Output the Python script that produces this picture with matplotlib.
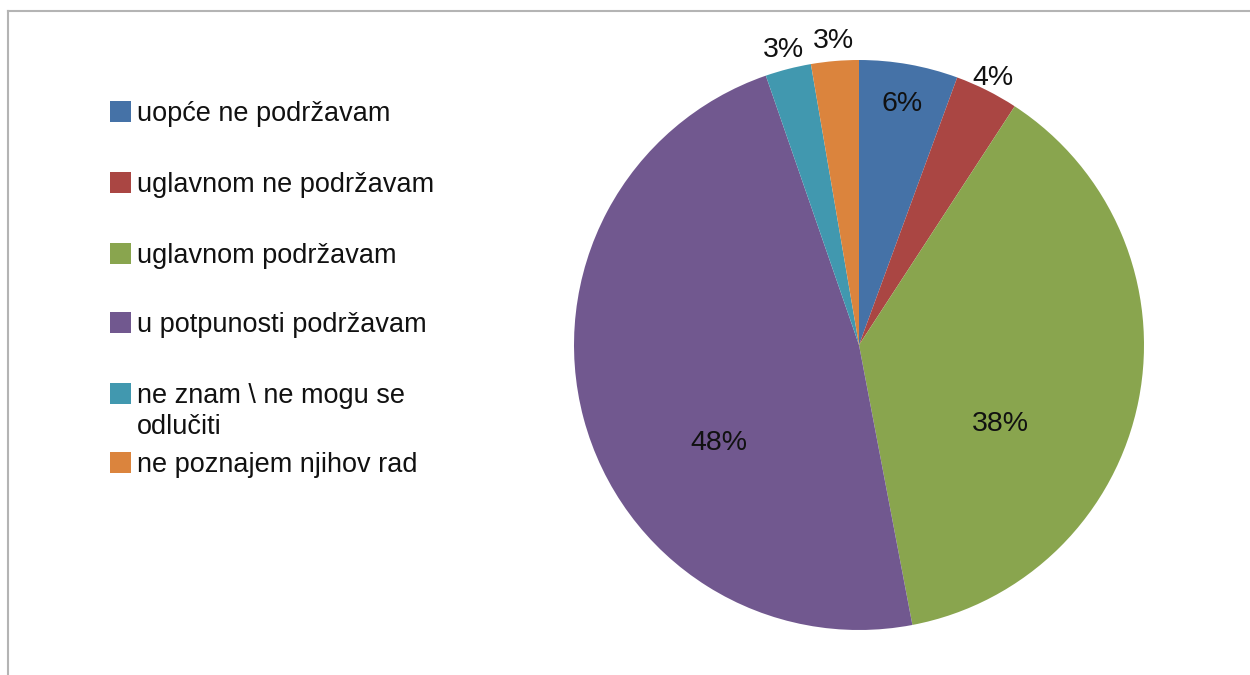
import numpy as np
import matplotlib
matplotlib.use("Agg")
import matplotlib.pyplot as plt
from matplotlib.lines import Line2D
from matplotlib.patches import Rectangle

plt.rcParams['font.family'] = ['Liberation Sans', 'DejaVu Sans']

categories = ["uopće ne podržavam",
              "uglavnom ne podržavam",
              "uglavnom podržavam",
              "u potpunosti podržavam",
              "ne znam \\ ne mogu se\nodlučiti",
              "ne poznajem njihov rad"]
shares = [5.6, 3.6, 37.8, 47.7, 2.6, 2.7]
colors = ["#4572A7", "#AA4643", "#89A54E", "#71588F", "#4198AF", "#DB843D"]

# label placement: distance from centre (pie radii) and angle shift (deg)
label_dist = [0.86, 1.05, 0.57, 0.60, 1.07, 1.07]
label_shift = [0, 0, -18, 20, 0, 0]
# legend rows (figure pixels from the top)
legend_y = [111, 182, 253, 322, 393, 462]

W, H = 1250, 675
fig = plt.figure(figsize=(12.5, 6.75), dpi=100)

# chart frame (only top and left edges are visible)
fig.add_artist(Line2D([8 / W, 1], [1 - 11 / H, 1 - 11 / H],
                      transform=fig.transFigure, color="#b4b4b4", lw=1.5))
fig.add_artist(Line2D([8 / W, 8 / W], [0, 1 - 11 / H],
                      transform=fig.transFigure, color="#b4b4b4", lw=1.5))

ax = fig.add_axes([574 / W, 45 / H, 570 / W, 570 / H])
wedges, _ = ax.pie(shares, colors=colors, startangle=90, counterclock=False,
                   radius=1, wedgeprops=dict(linewidth=0))
ax.set_xlim(-1, 1)
ax.set_ylim(-1, 1)
ax.set_aspect("equal")
ax.axis("off")

for w, v, d, s in zip(wedges, shares, label_dist, label_shift):
    mid = np.deg2rad((w.theta1 + w.theta2) / 2 + s)
    ax.text(d * np.cos(mid), d * np.sin(mid), f"{round(v)}%",
            ha="center", va="center", fontsize=20.5, color="#111111",
            clip_on=False)

# legend
for name, c, y in zip(categories, colors, legend_y):
    fig.add_artist(Rectangle((110 / W, 1 - (y + 10.5) / H), 21 / W, 21 / H,
                             transform=fig.transFigure, color=c, lw=0))
    for i, line in enumerate(name.split("\n")):
        fig.text(137 / W, 1 - (y + 31 * i) / H, line, ha="left",
                 va="center_baseline", fontsize=19.5, color="#111111")

fig.savefig("out.png", dpi=100)
